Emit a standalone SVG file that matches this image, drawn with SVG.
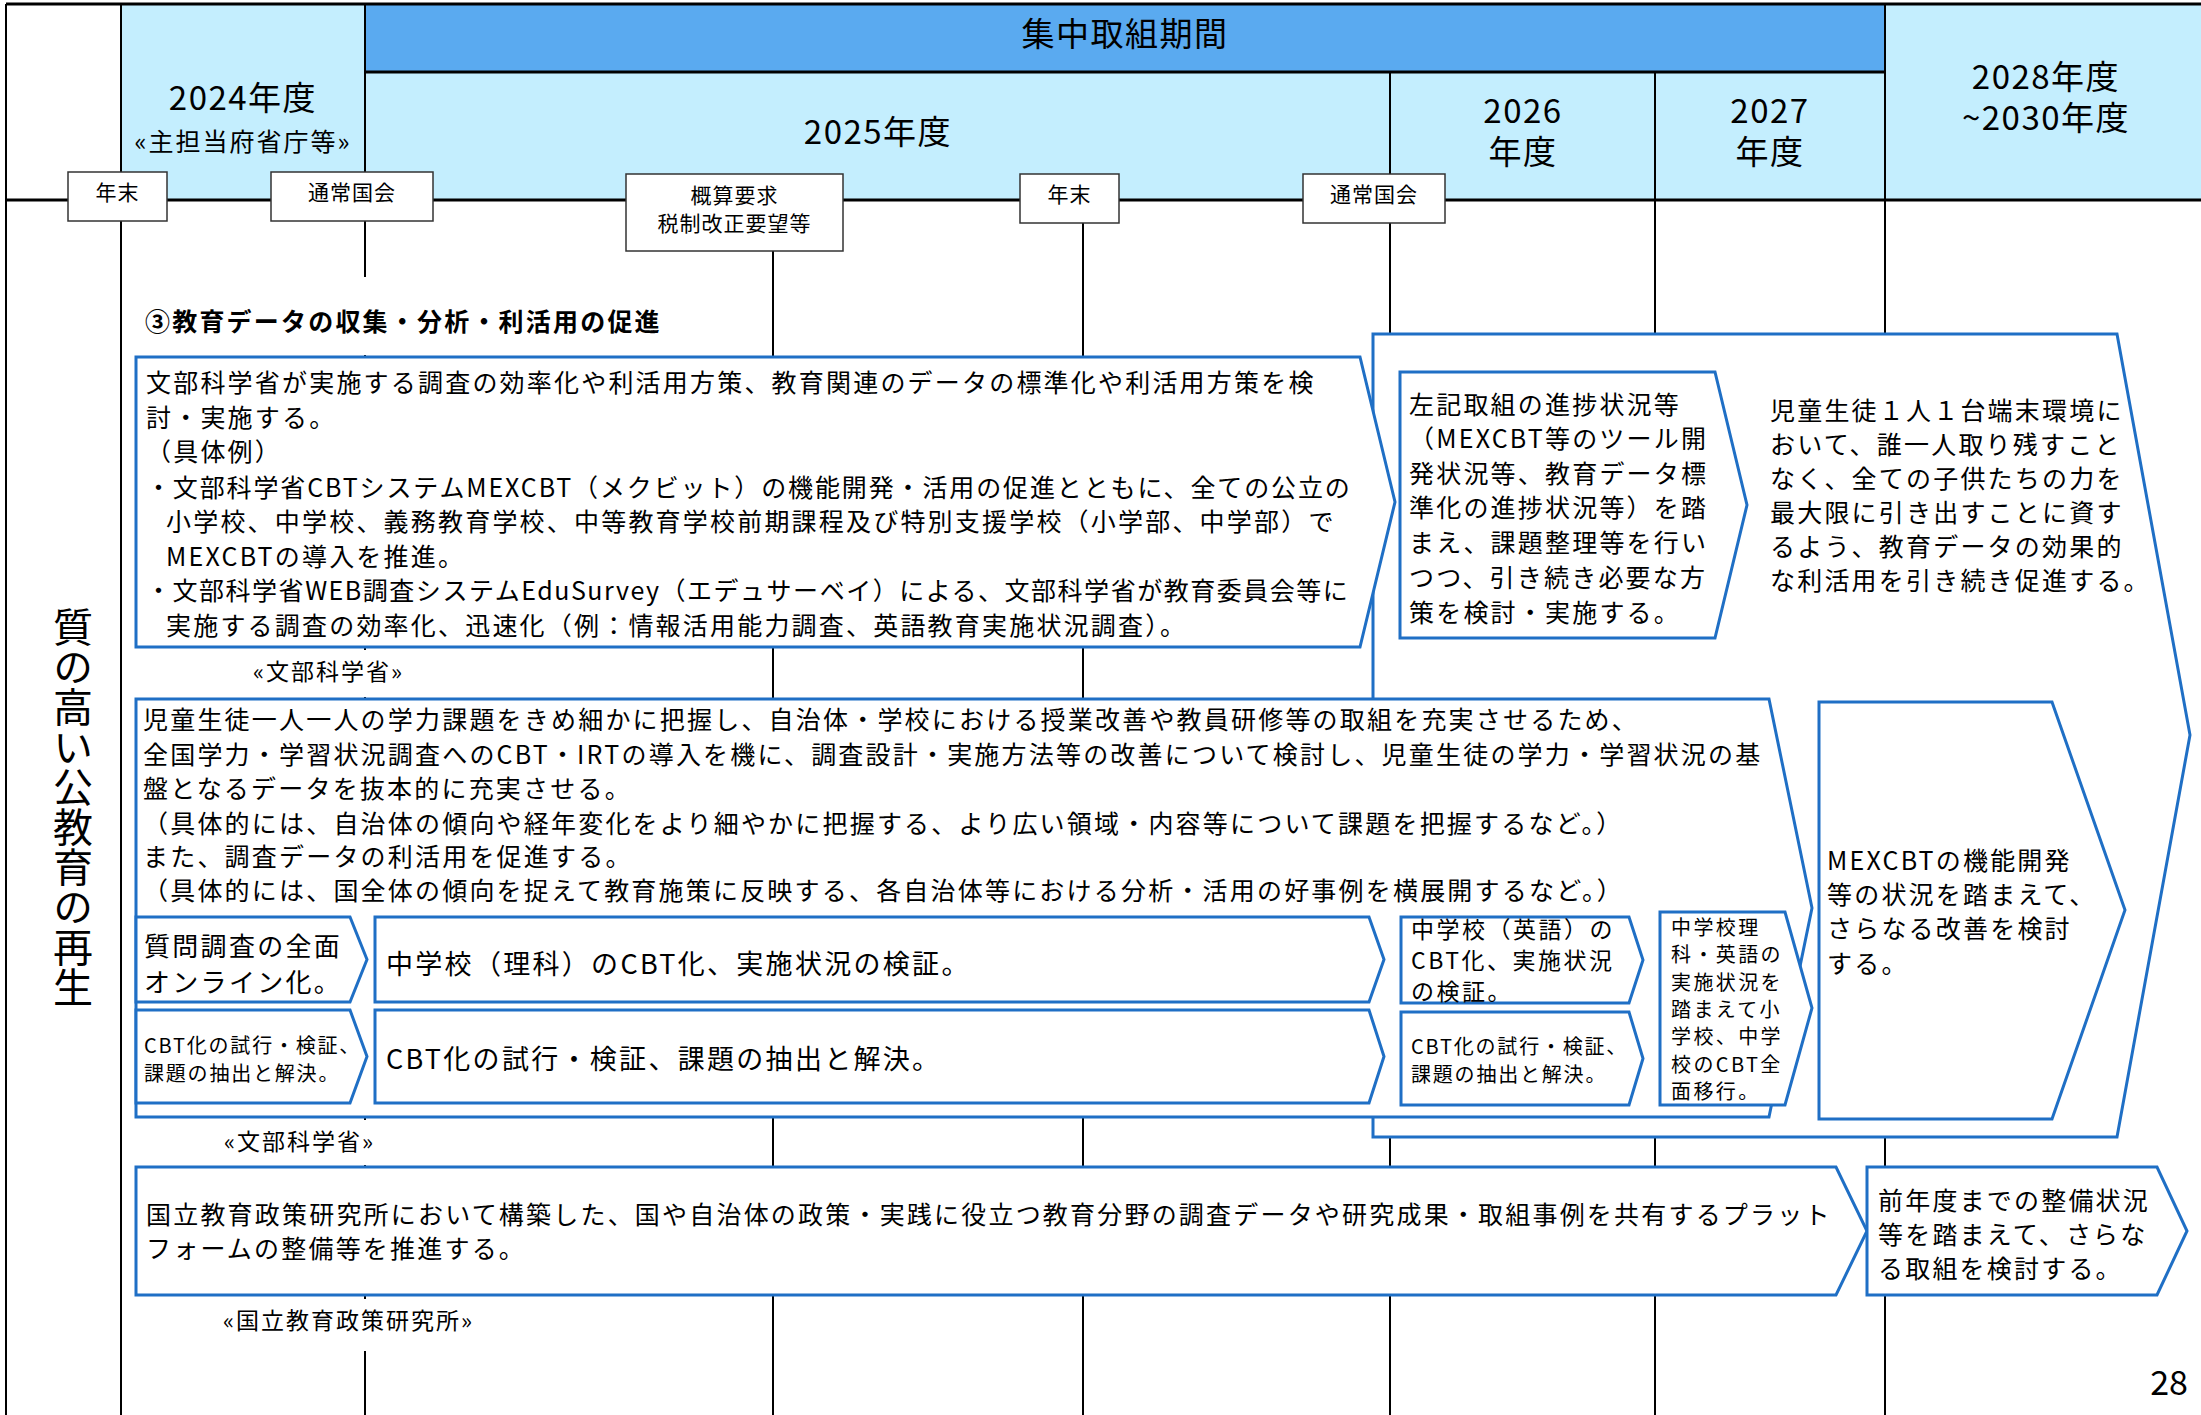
<svg xmlns="http://www.w3.org/2000/svg" width="2201" height="1415" viewBox="0 0 2201 1415">
<style>
.t{font-family:"Noto Sans CJK JP","Noto Sans",sans-serif;fill:#000}
.b{font-size:25px;letter-spacing:2.2px}
.hd{font-size:33px;letter-spacing:1.5px;text-anchor:middle}
.tab{font-size:21px;letter-spacing:1px;text-anchor:middle}
.lbl{font-size:23px;letter-spacing:2px}
.vl{stroke:#000;stroke-width:2;fill:none}
.hl{stroke:#000;stroke-width:3;fill:none}
.bx{fill:#fff;stroke:#1F6FC5;stroke-width:3}
.tb{fill:#fff;stroke:#333;stroke-width:1.5}
.lt{fill:#C4EEFE}
.dk{fill:#5AAAF0}
</style>
<rect width="2201" height="1415" fill="#fff"/>
<g id="header">
<rect class="lt" x="121" y="4" width="244" height="196"/>
<rect class="dk" x="365" y="4" width="1520" height="68"/>
<rect class="lt" x="365" y="72" width="1520" height="128"/>
<rect class="lt" x="1885" y="4" width="316" height="196"/>
</g>
<g id="grid">
<line class="vl" x1="6" y1="4" x2="6" y2="1415"/>
<line class="vl" x1="121" y1="4" x2="121" y2="1415"/>
<line class="vl" x1="365" y1="4" x2="365" y2="1415"/>
<line class="vl" x1="773" y1="200" x2="773" y2="1415"/>
<line class="vl" x1="1083" y1="200" x2="1083" y2="1415"/>
<line class="vl" x1="1390" y1="72" x2="1390" y2="1415"/>
<line class="vl" x1="1655" y1="72" x2="1655" y2="1415"/>
<line class="vl" x1="1885" y1="4" x2="1885" y2="1415"/>
<line class="hl" x1="6" y1="4" x2="2201" y2="4"/>
<line class="hl" x1="365" y1="72" x2="1885" y2="72"/>
<line class="hl" x1="6" y1="200" x2="2201" y2="200"/>
</g>
<g id="header-text" class="t">
<text class="hd" x="1125" y="46">集中取組期間</text>
<text class="hd" x="243" y="110">2024年度</text>
<text x="243" y="151" font-size="25" letter-spacing="2" text-anchor="middle">«主担当府省庁等»</text>
<text class="hd" x="878" y="144">2025年度</text>
<text class="hd"><tspan x="1523" y="123">2026</tspan><tspan x="1523" y="164">年度</tspan></text>
<text class="hd"><tspan x="1770" y="123">2027</tspan><tspan x="1770" y="164">年度</tspan></text>
<text class="hd"><tspan x="2046" y="89">2028年度</tspan><tspan x="2046" y="130">~2030年度</tspan></text>
</g>
<g id="tab-nenmatsu1"><rect class="tb" x="68" y="172" width="99" height="49"/><text class="t tab" x="117.5" y="200">年末</text></g>
<g id="tab-kokkai1"><rect class="tb" x="271" y="172" width="162" height="49"/><text class="t tab" x="352" y="200">通常国会</text></g>
<g id="tab-gaisan"><rect class="tb" x="626" y="174" width="217" height="77"/><text class="t tab"><tspan x="734.5" y="203">概算要求</tspan><tspan x="734.5" y="231">税制改正要望等</tspan></text></g>
<g id="tab-nenmatsu2"><rect class="tb" x="1020" y="174" width="99" height="49"/><text class="t tab" x="1069.5" y="202">年末</text></g>
<g id="tab-kokkai2"><rect class="tb" x="1303" y="174" width="142" height="49"/><text class="t tab" x="1374" y="202">通常国会</text></g>
<g id="side-label">
<text class="t" x="73" y="607" font-size="40" style="writing-mode:vertical-rl">質の高い公教育の再生</text>
</g>
<g id="heading"><rect x="130" y="277" width="570" height="78" fill="#fff"/><text class="t b" x="145" y="331" font-weight="bold">③教育データの収集・分析・利活用の促進</text></g>
<g id="container"><polygon class="bx" points="1373,334 2117,334 2190,735 2117,1137 1373,1137"/>
<text class="t b" x="1770"><tspan x="1770" y="419.5">児童生徒１人１台端末環境に</tspan><tspan x="1770" y="453.5">おいて、誰一人取り残すこと</tspan><tspan x="1770" y="487.5">なく、全ての子供たちの力を</tspan><tspan x="1770" y="521.5">最大限に引き出すことに資す</tspan><tspan x="1770" y="555.5">るよう、教育データの効果的</tspan><tspan x="1770" y="589.5">な利活用を引き続き促進する。</tspan></text></g>
<g id="box1"><polygon class="bx" points="136,357 1360,357 1395,502 1360,647 136,647"/>
<text class="t b"><tspan x="146" y="391.5">文部科学省が実施する調査の効率化や利活用方策、教育関連のデータの標準化や利活用方策を検</tspan><tspan x="146" y="426.5">討・実施する。</tspan><tspan x="146" y="460.5">（具体例）</tspan><tspan x="146" y="496.5" textLength="1206" lengthAdjust="spacing">・文部科学省CBTシステムMEXCBT（メクビット）の機能開発・活用の促進とともに、全ての公立の</tspan><tspan x="166" y="530.5">小学校、中学校、義務教育学校、中等教育学校前期課程及び特別支援学校（小学部、中学部）で</tspan><tspan x="166" y="565.5">MEXCBTの導入を推進。</tspan><tspan x="146" y="599.5" textLength="1204" lengthAdjust="spacing">・文部科学省WEB調査システムEduSurvey（エデュサーベイ）による、文部科学省が教育委員会等に</tspan><tspan x="166" y="634.5">実施する調査の効率化、迅速化（例：情報活用能力調査、英語教育実施状況調査）。</tspan></text></g>
<g id="box-sakki"><polygon class="bx" points="1400,372 1715,372 1747,505 1715,638 1400,638"/>
<text class="t b"><tspan x="1409" y="413.5">左記取組の進捗状況等</tspan><tspan x="1409" y="447.5">（MEXCBT等のツール開</tspan><tspan x="1409" y="482.5">発状況等、教育データ標</tspan><tspan x="1409" y="516.5">準化の進捗状況等）を踏</tspan><tspan x="1409" y="551.5">まえ、課題整理等を行い</tspan><tspan x="1409" y="586.5">つつ、引き続き必要な方</tspan><tspan x="1409" y="621.5">策を検討・実施する。</tspan></text></g>
<g id="label1"><rect x="240" y="650" width="190" height="47" fill="#fff"/><text class="t lbl" x="253" y="680">«文部科学省»</text></g>
<g id="box2"><polygon class="bx" points="136,699 1769,699 1812,908 1769,1117 136,1117"/>
<text class="t b"><tspan x="143" y="728.5">児童生徒一人一人の学力課題をきめ細かに把握し、自治体・学校における授業改善や教員研修等の取組を充実させるため、</tspan><tspan x="143" y="763.5">全国学力・学習状況調査へのCBT・IRTの導入を機に、調査設計・実施方法等の改善について検討し、児童生徒の学力・学習状況の基</tspan><tspan x="143" y="797.5">盤となるデータを抜本的に充実させる。</tspan><tspan x="143" y="832.5">（具体的には、自治体の傾向や経年変化をより細やかに把握する、より広い領域・内容等について課題を把握するなど。）</tspan><tspan x="143" y="865.5">また、調査データの利活用を促進する。</tspan><tspan x="143" y="899.5">（具体的には、国全体の傾向を捉えて教育施策に反映する、各自治体等における分析・活用の好事例を横展開するなど。）</tspan></text></g>
<g id="sub-shitsumon"><polygon class="bx" points="136,917 350,917 367,959.5 350,1002 136,1002"/>
<text class="t" font-size="26" letter-spacing="2.3"><tspan x="144" y="956">質問調査の全面</tspan><tspan x="144" y="992">オンライン化。</tspan></text></g>
<g id="sub-rika"><polygon class="bx" points="375,917 1369,917 1384,959.5 1369,1002 375,1002"/>
<text class="t" x="386" y="974" font-size="27" letter-spacing="2.3">中学校（理科）のCBT化、実施状況の検証。</text></g>
<g id="sub-cbt1"><polygon class="bx" points="136,1010 350,1010 367,1056.5 350,1103 136,1103"/>
<text class="t" font-size="20" letter-spacing="1.8"><tspan x="144" y="1053">CBT化の試行・検証、</tspan><tspan x="144" y="1081">課題の抽出と解決。</tspan></text></g>
<g id="sub-cbt2"><polygon class="bx" points="375,1010 1369,1010 1384,1056.5 1369,1103 375,1103"/>
<text class="t" x="386" y="1069" font-size="27" letter-spacing="2.3">CBT化の試行・検証、課題の抽出と解決。</text></g>
<g id="sub-eigo"><polygon class="bx" points="1401,917 1629,917 1643,960 1629,1003 1401,1003"/>
<text class="t" font-size="23" letter-spacing="2.5"><tspan x="1411" y="938">中学校（英語）の</tspan><tspan x="1411" y="969">CBT化、実施状況</tspan><tspan x="1411" y="1000">の検証。</tspan></text></g>
<g id="sub-cbt3"><polygon class="bx" points="1401,1012 1629,1012 1643,1058.5 1629,1105 1401,1105"/>
<text class="t" font-size="20" letter-spacing="1.8"><tspan x="1411" y="1054">CBT化の試行・検証、</tspan><tspan x="1411" y="1082">課題の抽出と解決。</tspan></text></g>
<g id="sub-zenmen"><polygon class="bx" points="1660,912 1785,912 1812,1008 1785,1105 1660,1105"/>
<text class="t" font-size="20" letter-spacing="2.4"><tspan x="1671" y="935">中学校理</tspan><tspan x="1671" y="962">科・英語の</tspan><tspan x="1671" y="990">実施状況を</tspan><tspan x="1671" y="1017">踏まえて小</tspan><tspan x="1671" y="1044">学校、中学</tspan><tspan x="1671" y="1072">校のCBT全</tspan><tspan x="1671" y="1099">面移行。</tspan></text></g>
<g id="box-mexcbt"><polygon class="bx" points="1819,702 2052,702 2125,910 2052,1119 1819,1119"/>
<text class="t b"><tspan x="1827" y="869.5">MEXCBTの機能開発</tspan><tspan x="1827" y="903.5">等の状況を踏まえて、</tspan><tspan x="1827" y="937.5">さらなる改善を検討</tspan><tspan x="1827" y="972.5">する。</tspan></text></g>
<g id="label2"><rect x="210" y="1120" width="190" height="45" fill="#fff"/><text class="t lbl" x="224" y="1150">«文部科学省»</text></g>
<g id="box3"><polygon class="bx" points="136,1167 1836,1167 1867,1231 1836,1295 136,1295"/>
<text class="t b"><tspan x="146" y="1223.5">国立教育政策研究所において構築した、国や自治体の政策・実践に役立つ教育分野の調査データや研究成果・取組事例を共有するプラット</tspan><tspan x="146" y="1257.5">フォームの整備等を推進する。</tspan></text></g>
<g id="box4"><polygon class="bx" points="1867,1167 2157,1167 2187,1231 2157,1295 1867,1295"/>
<text class="t b"><tspan x="1878" y="1209.5">前年度までの整備状況</tspan><tspan x="1878" y="1243.5">等を踏まえて、さらな</tspan><tspan x="1878" y="1277.5">る取組を検討する。</tspan></text></g>
<g id="label3"><rect x="210" y="1299" width="290" height="52" fill="#fff"/><text class="t lbl" x="223" y="1329">«国立教育政策研究所»</text></g>
<text class="t" x="2188" y="1395" font-size="34" text-anchor="end">28</text>
</svg>
